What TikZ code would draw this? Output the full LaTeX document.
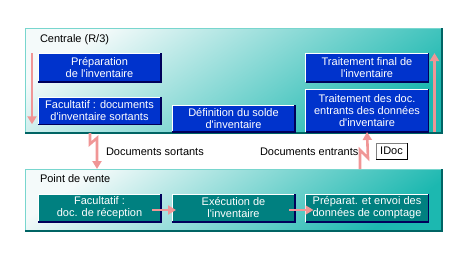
\documentclass[tikz,border=0pt]{standalone}
\usepackage{fontspec}
\setmainfont{Liberation Sans}
\usetikzlibrary{arrows.meta}
\definecolor{boxblue}{RGB}{0,51,204}
\definecolor{boxteal}{RGB}{0,128,128}
\definecolor{edgedark}{RGB}{0,0,90}
\definecolor{panellight}{RGB}{244,250,250}
\definecolor{panelteal}{RGB}{28,184,176}
\definecolor{panelline}{RGB}{120,214,206}
\definecolor{paneldark}{RGB}{0,100,100}
\definecolor{zapred}{RGB}{240,150,150}

\begin{document}
\begin{tikzpicture}[x={(1pt,0pt)},y={(0pt,-1pt)},
  every node/.style={font=\fontsize{11}{12}\selectfont, inner sep=0pt, outer sep=0pt},
  panel/.style={top color=panellight, bottom color=panelteal, shading angle=35},
  task/.style={minimum width=123pt, align=center, text=white},
  flow/.style={zapred, line width=2.6pt, -{Triangle[width=9pt,length=8pt]}}]
\useasboundingbox (0,0) rectangle (469,257);
% panels
\shade[panel] (25,28) rectangle (442,133);
\shade[panel] (25,169) rectangle (442,231);
\foreach \t/\b in {28/133,169/231} {
\draw[panelline] (25,\b) -- (25,\t) -- (442,\t);
\draw[paneldark, line width=1.2pt] (442,\t) -- (442,\b) -- (25,\b);
}
\node[anchor=west] (centrale) at (40,40) {Centrale (R/3)};
\node[anchor=west] (vente) at (40,179) {Point de vente};
% central tasks
\node[task, fill=boxblue, minimum height=29pt] (prep) at (99.5,67.5) {Préparation\\de l\textquotesingle inventaire};
\node[task, fill=boxblue, minimum height=27.5pt] (facA) at (99.5,110.5) {Facultatif : documents\\d\textquotesingle inventaire sortants};
\node[task, fill=boxblue, minimum height=27pt] (defi) at (233.5,118.5) {Définition du solde\\d\textquotesingle inventaire};
\node[task, fill=boxblue, minimum height=29pt] (finA) at (367,67.5) {Traitement final de\\l\textquotesingle inventaire};
\node[task, fill=boxblue, minimum height=43pt] (trait) at (367,110.5) {Traitement des doc.\\entrants des données\\d\textquotesingle inventaire};
% store tasks
\node[task, fill=boxteal, minimum height=28pt] (facB) at (99.5,208) {Facultatif :\\doc. de réception};
\node[task, fill=boxteal, minimum height=28pt] (exec) at (233.5,208) {Exécution de\\l\textquotesingle inventaire};
\node[task, fill=boxteal, minimum height=28pt] (envoi) at (367,208) {Préparat. et envoi des\\données de comptage};
\foreach \n in {prep,facA,defi,finA,trait,facB,exec,envoi} {
\draw[white] (\n.south west) -- (\n.north west) -- (\n.north east);
\draw[edgedark, line width=1.2pt] (\n.north east) -- (\n.south east) -- (\n.south west);
}
% messages
\node[anchor=west] (sortants) at (106,152) {Documents sortants};
\node[anchor=west] (entrants) at (260,152) {Documents entrants};
\node[fill=white, draw=gray, minimum width=31pt, minimum height=16pt] (idoc) at (391.5,151) {IDoc};
\draw[black, line width=1pt] (idoc.north east) -- (idoc.south east) -- (idoc.south west);
\coordinate (outA) at (90,133);
\coordinate (outB) at (97,169);
\coordinate (inA) at (360,169);
\draw[flow] ([xshift=-6pt]prep.north west) -- ([xshift=-6pt]facA.south west);
\draw[flow] ([xshift=6pt]trait.south east) -- ([xshift=6pt]finA.north east);
\draw[flow] (outA) -- ++(0,11) -- ++(7,-6) -- (outB);
\draw[flow] (inA) -- ++(0,-19) -- ++(8,8) -- (trait.south);
\draw[flow] ([xshift=-9pt,yshift=-2pt]facB.east) -- ([xshift=4pt,yshift=-2pt]exec.west);
\draw[flow] ([xshift=-6pt,yshift=-2pt]exec.east) -- ([xshift=8pt,yshift=-2pt]envoi.west);
\end{tikzpicture}
\end{document}
